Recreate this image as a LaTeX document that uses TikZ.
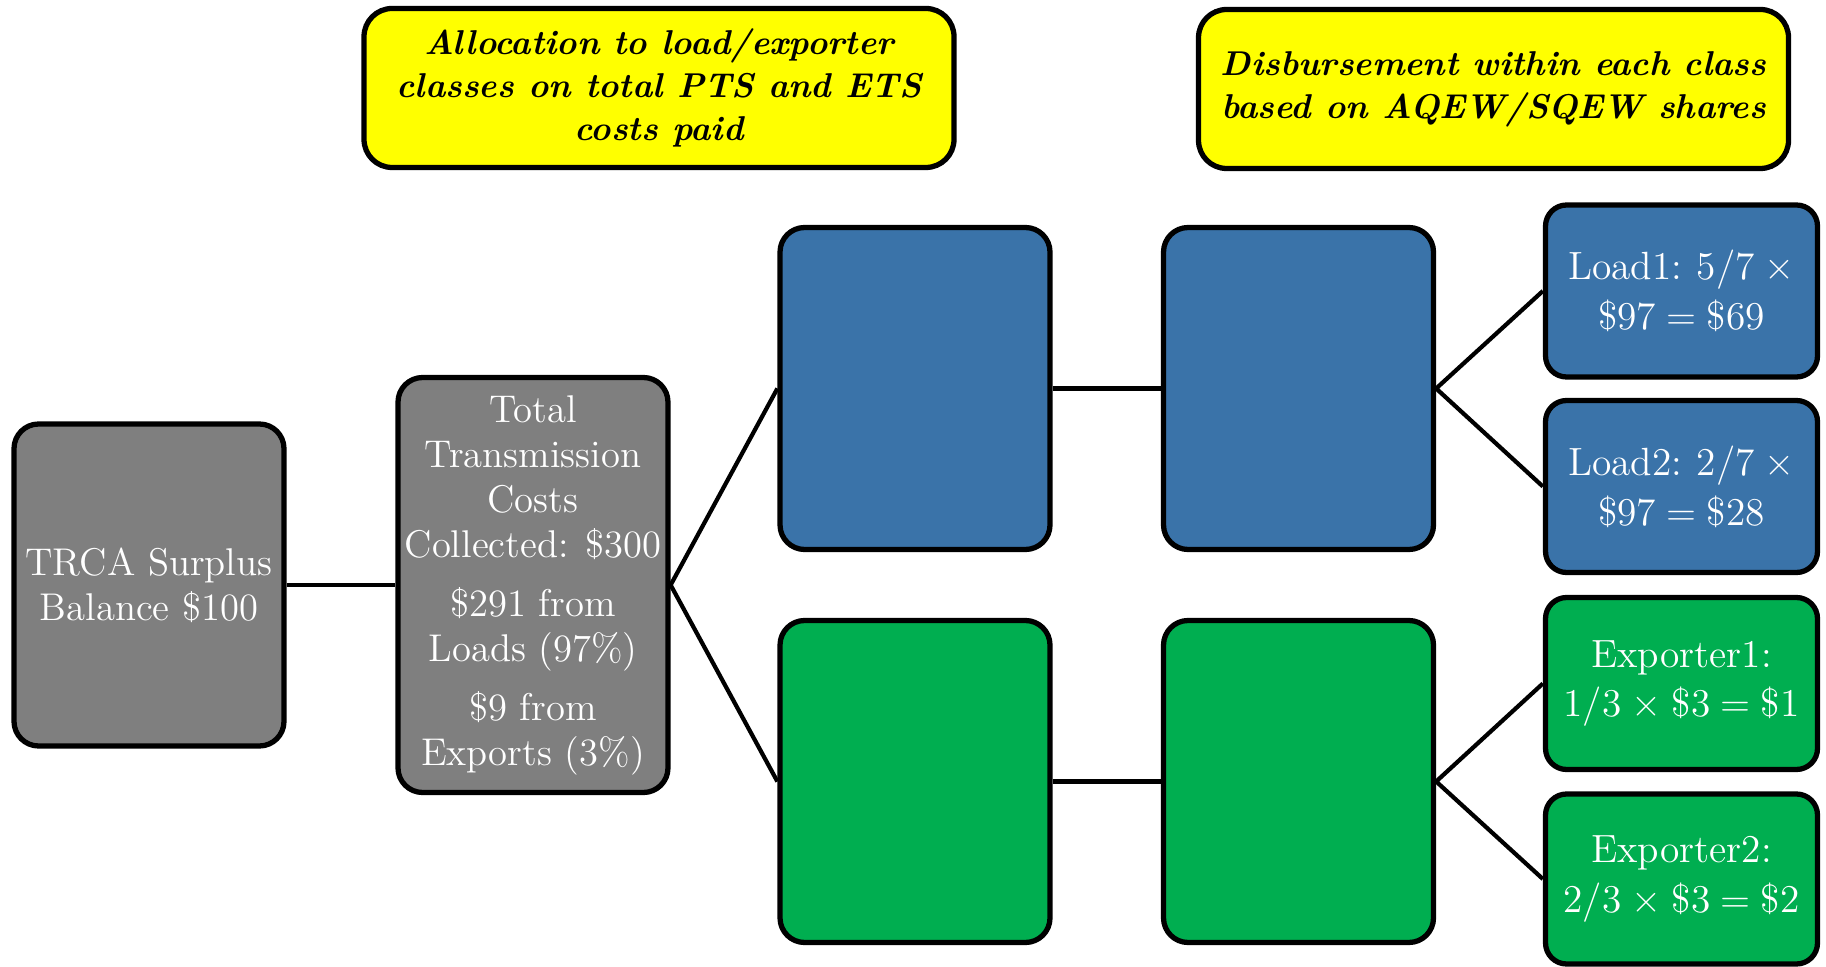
\documentclass[tikz,border=0pt]{standalone}
\usepackage{fontspec}
\definecolor{boxgray}{RGB}{127,127,127}
\definecolor{boxblue}{RGB}{58,115,169}
\definecolor{boxgreen}{RGB}{0,174,80}
\definecolor{noteyellow}{RGB}{255,255,0}
% slightly narrower inter-word spaces for the share boxes
\newcommand\narrowspaces{\spaceskip=0.8\fontdimen2\font\relax}
\begin{document}
\begin{tikzpicture}[x=0.1mm,y=-0.1mm,
  base/.style={draw=black, line width=1.5pt, align=center, inner sep=0pt},
  bigbox/.style={base, rounded corners=7pt, text=white,
    minimum width=27mm, minimum height=32.2mm,
    font=\fontsize{11}{12.8}\selectfont},
  smallbox/.style={base, rounded corners=6pt, text=white,
    minimum width=27.2mm, minimum height=17.2mm,
    font=\fontsize{11.2}{14.2}\selectfont\narrowspaces},
  note/.style={base, rounded corners=8pt, fill=noteyellow, text=black,
    minimum width=59mm, minimum height=15.9mm,
    font=\fontsize{9.8}{12.3}\selectfont\bfseries\itshape},
  link/.style={draw=black, line width=1.2pt}]
\useasboundingbox (0,0) rectangle (1826,967);

% headings
\node[note] (head1) at (659,88) {Allocation to load/exporter\\classes on total PTS and ETS\\costs paid};
\node[note] (head2) at (1493.5,89) {Disbursement within each class\\based on AQEW/SQEW shares};

% source and total
\node[bigbox, fill=boxgray] (trca) at (149,585) {TRCA Surplus\\Balance \$100};
\node[bigbox, fill=boxgray, minimum height=41.5mm] (total) at (533,585)
  {Total\\Transmission\\Costs\\Collected: \$300\\[4pt]\$291 from\\Loads (97\%)\\[4pt]\$9 from\\Exports (3\%)};

% class boxes
\node[bigbox, fill=boxblue] (load1st) at (915,388.5) {};
\node[bigbox, fill=boxblue] (load2nd) at (1298.5,388.5) {};
\node[bigbox, fill=boxgreen] (exp1st) at (915,781.5) {};
\node[bigbox, fill=boxgreen] (exp2nd) at (1298.5,781.5) {};

% individual shares
\node[smallbox, fill=boxblue] (loadA) at (1681.5,291) {Load1: 5/7 ×\\\$97 = \$69};
\node[smallbox, fill=boxblue] (loadB) at (1681.5,486.5) {Load2: 2/7 ×\\\$97 = \$28};
\node[smallbox, fill=boxgreen] (expA) at (1681.5,683.5) {Exporter1:\\1/3 × \$3 = \$1};
\node[smallbox, fill=boxgreen, minimum height=17mm] (expB) at (1681.5,879) {Exporter2:\\2/3 × \$3 = \$2};

% connectors
\draw[link] (trca.east) -- (total.west);
\draw[link] (total.east) -- (load1st.west);
\draw[link] (total.east) -- (exp1st.west);
\draw[link] (load1st.east) -- (load2nd.west);
\draw[link] (exp1st.east) -- (exp2nd.west);
\draw[link] (load2nd.east) -- (loadA.west);
\draw[link] (load2nd.east) -- (loadB.west);
\draw[link] (exp2nd.east) -- (expA.west);
\draw[link] (exp2nd.east) -- (expB.west);
\end{tikzpicture}
\end{document}
